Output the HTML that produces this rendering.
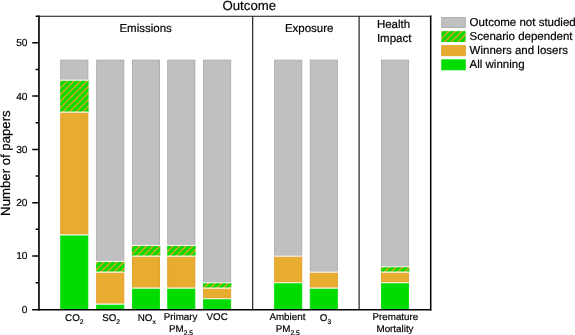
<!DOCTYPE html>
<html><head><meta charset="utf-8"><title>Outcome</title>
<style>
html,body{margin:0;padding:0;background:#fff;}
body{width:575px;height:335px;overflow:hidden;}
svg{display:block;}
text{text-rendering:geometricPrecision;font-family:"Liberation Sans",sans-serif;fill:#000;stroke:#000;stroke-width:0.18px;}
.t10{font-size:9.8px;}
.t11{font-size:11.5px;}
.t13{font-size:13.45px;}
.sub{font-size:6.7px;}
</style></head><body>
<svg width="575" height="335" viewBox="0 0 575 335">
<defs>
<pattern id="h" patternUnits="userSpaceOnUse" width="6.6" height="6.6" x="3.2" y="0">
<rect width="6.6" height="6.6" fill="#00dc00"/>
<path d="M-1,1 L1,-1 M-1,7.6 L7.6,-1 M5.6,7.6 L7.6,5.6" stroke="#ff9a2c" stroke-width="1.3" fill="none"/>
</pattern>
<pattern id="h2" patternUnits="userSpaceOnUse" width="6.6" height="6.6" x="4.8" y="0">
<rect width="6.6" height="6.6" fill="#00dc00"/>
<path d="M-1,1 L1,-1 M-1,7.6 L7.6,-1 M5.6,7.6 L7.6,5.6" stroke="#ff9a2c" stroke-width="1.3" fill="none"/>
</pattern>
</defs>
<rect width="575" height="335" fill="#fff"/>

<rect x="60.70" y="235.08" width="27.20" height="73.82" fill="#00dc00" stroke="#00dc00" stroke-width="0.8"/>
<rect x="60.70" y="112.49" width="27.20" height="121.79" fill="#e8ac30" stroke="#e09a22" stroke-width="0.8"/>
<rect x="60.15" y="80.11" width="28.45" height="31.98" fill="url(#h)"/>
<rect x="60.70" y="60.10" width="27.20" height="19.61" fill="#c0c0c0" stroke="#a6a6a6" stroke-width="0.8"/>
<path d="M60.00,234.78 H88.60 M60.00,112.19 H88.60 M60.00,80.21 H88.60" stroke="#fff" stroke-opacity="0.9" stroke-width="1.2" fill="none"/>
<rect x="96.65" y="304.37" width="27.20" height="4.53" fill="#00dc00" stroke="#00dc00" stroke-width="0.8"/>
<rect x="96.65" y="272.39" width="27.20" height="31.18" fill="#e8ac30" stroke="#e09a22" stroke-width="0.8"/>
<rect x="96.10" y="261.33" width="28.45" height="10.66" fill="url(#h)"/>
<rect x="96.65" y="60.10" width="27.20" height="200.83" fill="#c0c0c0" stroke="#a6a6a6" stroke-width="0.8"/>
<path d="M95.95,304.07 H124.55 M95.95,272.09 H124.55 M95.95,261.43 H124.55" stroke="#fff" stroke-opacity="0.9" stroke-width="1.2" fill="none"/>
<rect x="132.40" y="288.38" width="27.20" height="20.52" fill="#00dc00" stroke="#00dc00" stroke-width="0.8"/>
<rect x="132.40" y="256.40" width="27.20" height="31.18" fill="#e8ac30" stroke="#e09a22" stroke-width="0.8"/>
<rect x="131.85" y="245.34" width="28.45" height="10.66" fill="url(#h)"/>
<rect x="132.40" y="60.10" width="27.20" height="184.84" fill="#c0c0c0" stroke="#a6a6a6" stroke-width="0.8"/>
<path d="M131.70,288.08 H160.30 M131.70,256.10 H160.30 M131.70,245.44 H160.30" stroke="#fff" stroke-opacity="0.9" stroke-width="1.2" fill="none"/>
<rect x="167.70" y="288.38" width="27.20" height="20.52" fill="#00dc00" stroke="#00dc00" stroke-width="0.8"/>
<rect x="167.70" y="256.40" width="27.20" height="31.18" fill="#e8ac30" stroke="#e09a22" stroke-width="0.8"/>
<rect x="167.15" y="245.34" width="28.45" height="10.66" fill="url(#h)"/>
<rect x="167.70" y="60.10" width="27.20" height="184.84" fill="#c0c0c0" stroke="#a6a6a6" stroke-width="0.8"/>
<path d="M167.00,288.08 H195.60 M167.00,256.10 H195.60 M167.00,245.44 H195.60" stroke="#fff" stroke-opacity="0.9" stroke-width="1.2" fill="none"/>
<rect x="203.50" y="299.04" width="27.20" height="9.86" fill="#00dc00" stroke="#00dc00" stroke-width="0.8"/>
<rect x="203.50" y="288.38" width="27.20" height="9.86" fill="#e8ac30" stroke="#e09a22" stroke-width="0.8"/>
<rect x="202.95" y="282.65" width="28.45" height="5.33" fill="url(#h)"/>
<rect x="203.50" y="60.10" width="27.20" height="222.15" fill="#c0c0c0" stroke="#a6a6a6" stroke-width="0.8"/>
<path d="M202.80,298.74 H231.40 M202.80,288.08 H231.40 M202.80,282.75 H231.40" stroke="#fff" stroke-opacity="0.9" stroke-width="1.2" fill="none"/>
<rect x="274.60" y="283.05" width="27.20" height="25.85" fill="#00dc00" stroke="#00dc00" stroke-width="0.8"/>
<rect x="274.60" y="256.40" width="27.20" height="25.85" fill="#e8ac30" stroke="#e09a22" stroke-width="0.8"/>
<rect x="274.60" y="60.10" width="27.20" height="195.50" fill="#c0c0c0" stroke="#a6a6a6" stroke-width="0.8"/>
<path d="M273.90,282.75 H302.50 M273.90,256.10 H302.50" stroke="#fff" stroke-opacity="0.9" stroke-width="1.2" fill="none"/>
<rect x="310.20" y="288.38" width="27.20" height="20.52" fill="#00dc00" stroke="#00dc00" stroke-width="0.8"/>
<rect x="310.20" y="272.39" width="27.20" height="15.19" fill="#e8ac30" stroke="#e09a22" stroke-width="0.8"/>
<rect x="310.20" y="60.10" width="27.20" height="211.49" fill="#c0c0c0" stroke="#a6a6a6" stroke-width="0.8"/>
<path d="M309.50,288.08 H338.10 M309.50,272.09 H338.10" stroke="#fff" stroke-opacity="0.9" stroke-width="1.2" fill="none"/>
<rect x="381.40" y="283.05" width="27.20" height="25.85" fill="#00dc00" stroke="#00dc00" stroke-width="0.8"/>
<rect x="381.40" y="272.39" width="27.20" height="9.86" fill="#e8ac30" stroke="#e09a22" stroke-width="0.8"/>
<rect x="380.85" y="266.66" width="28.45" height="5.33" fill="url(#h)"/>
<rect x="381.40" y="60.10" width="27.20" height="206.16" fill="#c0c0c0" stroke="#a6a6a6" stroke-width="0.8"/>
<path d="M380.70,282.75 H409.30 M380.70,272.09 H409.30 M380.70,266.76 H409.30" stroke="#fff" stroke-opacity="0.9" stroke-width="1.2" fill="none"/>
<g stroke="#000" fill="none">
<path d="M39,16.2 H431.4" stroke-width="1.05" stroke="#111"/>
<path d="M252.7,16.2 V309.5 M359.1,16.2 V309.5" stroke-width="1.1" stroke="#111"/>
<path d="M430.7,15.6 V310.6" stroke-width="1.5"/>
<path d="M38.95,15.5 V310.6" stroke-width="1.65"/>
<path d="M32.2,309.75 H431.4" stroke-width="1.7"/>
<path d="M32.2,256.00 H39 M32.2,202.70 H39 M32.2,149.40 H39 M32.2,96.10 H39 M32.2,42.80 H39" stroke-width="1.5"/>
<path d="M35.6,282.65 H39 M35.6,229.35 H39 M35.6,176.05 H39 M35.6,122.75 H39 M35.6,69.45 H39 M35.6,16.15 H39" stroke-width="1.5"/>
</g>
<text class="t10" style="font-size:10.2px" x="27.5" y="312.70" text-anchor="end">0</text>
<text class="t10" style="font-size:10.2px" x="27.5" y="259.40" text-anchor="end">10</text>
<text class="t10" style="font-size:10.2px" x="27.5" y="206.10" text-anchor="end">20</text>
<text class="t10" style="font-size:10.2px" x="27.5" y="152.80" text-anchor="end">30</text>
<text class="t10" style="font-size:10.2px" x="27.5" y="99.50" text-anchor="end">40</text>
<text class="t10" style="font-size:10.2px" x="27.5" y="46.20" text-anchor="end">50</text>
<text class="t13" style="font-size:13.2px" transform="translate(10.4,163.1) rotate(-90)" text-anchor="middle">Number of papers</text>
<text class="t13" style="font-size:13.2px" x="249.3" y="9.6" text-anchor="middle">Outcome</text>
<text class="t11" x="145.6" y="31.5" text-anchor="middle">Emissions</text>
<text class="t11" x="309.2" y="31.7" text-anchor="middle">Exposure</text>
<text class="t11" x="376.9" y="28.1">Health</text>
<text class="t11" x="376.9" y="42.4">Impact</text>
<text class="t10" x="74.3" y="320.6" text-anchor="middle">CO<tspan class="sub" dy="3.0">2</tspan></text>
<text class="t10" x="111.1" y="320.6" text-anchor="middle">SO<tspan class="sub" dy="3.0">2</tspan></text>
<text class="t10" x="146.7" y="320.6" text-anchor="middle">NO<tspan class="sub" dy="3.0">x</tspan></text>
<text class="t10" x="180.6" y="320.1" text-anchor="middle">Primary</text>
<text class="t10" x="181.0" y="331.9" text-anchor="middle">PM<tspan class="sub" dy="3.0">2.5</tspan></text>
<text class="t10" x="217.2" y="320.3" text-anchor="middle">VOC</text>
<text class="t10" x="287.4" y="320.1" text-anchor="middle">Ambient</text>
<text class="t10" x="287.7" y="331.8" text-anchor="middle">PM<tspan class="sub" dy="3.0">2.5</tspan></text>
<text class="t10" x="325.5" y="320.6" text-anchor="middle">O<tspan class="sub" dy="3.0">3</tspan></text>
<text class="t10" x="395.4" y="320.1" text-anchor="middle">Premature</text>
<text class="t10" x="395" y="331.9" text-anchor="middle">Mortality</text>
<rect x="441.7" y="17.40" width="23.6" height="10.1" fill="#c0c0c0" stroke="#a6a6a6" stroke-width="0.8"/>
<text class="t11" x="469.6" y="26.25">Outcome not studied</text>
<rect x="441.3" y="31.13" width="24.4" height="10.9" fill="url(#h2)"/>
<text class="t11" x="469.6" y="40.28">Scenario dependent</text>
<rect x="441.7" y="45.66" width="23.6" height="10.1" fill="#e8ac30" stroke="#e09a22" stroke-width="0.8"/>
<text class="t11" x="469.6" y="54.31">Winners and losers</text>
<rect x="441.7" y="59.79" width="23.6" height="10.1" fill="#00dc00" stroke="#00dc00" stroke-width="0.8"/>
<text class="t11" x="469.6" y="68.34">All winning</text>
</svg></body></html>
